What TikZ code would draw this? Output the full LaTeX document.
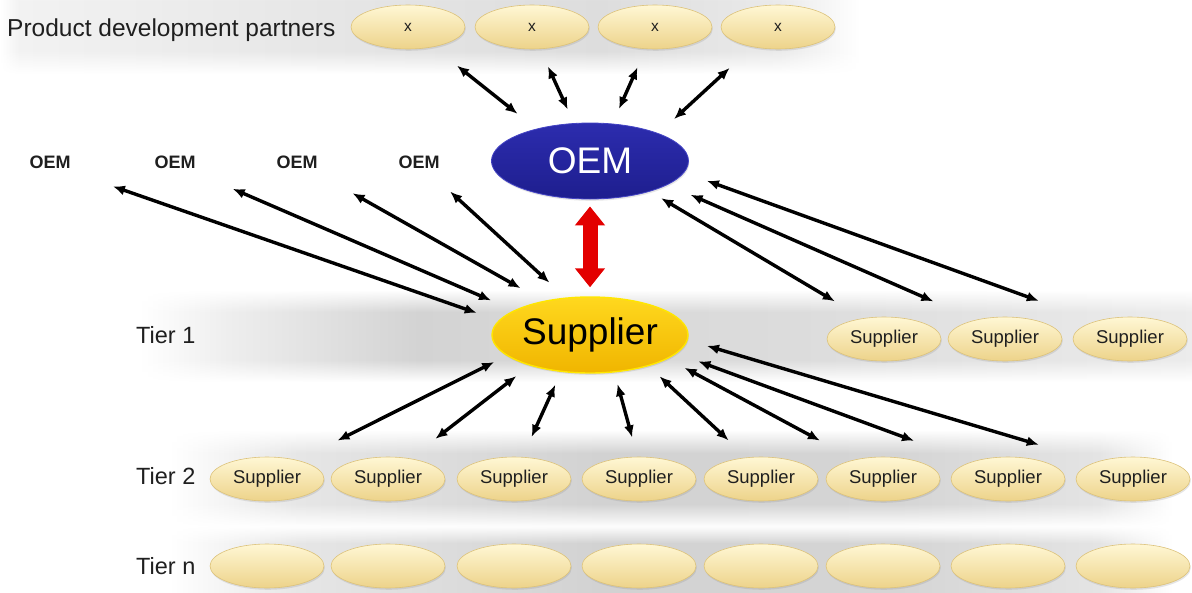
\documentclass[tikz,border=0pt]{standalone}
\usepackage{fontspec}
\setmainfont{Liberation Sans}
\usetikzlibrary{shapes.geometric,arrows.meta,shadows,fadings}

\definecolor{creamTop}{HTML}{FFF7D4}
\definecolor{creamMid}{HTML}{F9E8AE}
\definecolor{creamBot}{HTML}{EDD38A}
\definecolor{creamEdge}{HTML}{DCC27A}
\definecolor{oemTop}{HTML}{2C2CAE}
\definecolor{oemMid}{HTML}{1A1A82}
\definecolor{oemBot}{HTML}{1E1E8E}
\definecolor{oemEdge}{HTML}{4444C4}
\definecolor{supTop}{HTML}{FFD81E}
\definecolor{supMid}{HTML}{F8C500}
\definecolor{supBot}{HTML}{F0B500}
\definecolor{supEdge}{HTML}{FFE600}
\definecolor{arrowRed}{HTML}{E30000}
\definecolor{gA}{HTML}{F2F2F2}
\definecolor{gB}{HTML}{E6E6E6}
\definecolor{gC}{HTML}{DDDDDD}
\definecolor{gD}{HTML}{EAEAEA}
\definecolor{gE}{HTML}{EEEEEE}
\definecolor{gF}{HTML}{D3D3D3}
\definecolor{gG}{HTML}{D8D8D8}
\definecolor{gH}{HTML}{DCDCDC}
\definecolor{gI}{HTML}{ECECEC}
\definecolor{gJ}{HTML}{D2D2D2}
\definecolor{gK}{HTML}{D5D5D5}
\definecolor{gL}{HTML}{E4E4E4}

\pgfdeclareverticalshading{vplatsh}{100bp}{color(0bp)=(black); color(25bp)=(black); color(37bp)=(white); color(63bp)=(white); color(75bp)=(black); color(100bp)=(black)}
\pgfdeclarefading{vplat}{\pgfuseshading{vplatsh}}
\pgfdeclareverticalshading{vtopsh}{100bp}{color(0bp)=(white); color(70bp)=(white); color(75bp)=(black); color(100bp)=(black)}
\pgfdeclarefading{vtop}{\pgfuseshading{vtopsh}}

\pgfdeclarehorizontalshading{bandtop}{100bp}{color(0bp)=(white); color(25bp)=(white); color(26.1bp)=(gA); color(43.7bp)=(gB); color(59.1bp)=(gC); color(69.3bp)=(gD); color(73.9bp)=(white); color(100bp)=(white)}
\pgfdeclarehorizontalshading{bandone}{100bp}{color(0bp)=(white); color(25bp)=(white); color(29.2bp)=(gE); color(38.2bp)=(gF); color(44.8bp)=(gG); color(56.1bp)=(gH); color(65.6bp)=(gL); color(75bp)=(gI); color(100bp)=(gI)}
\pgfdeclarehorizontalshading{bandtwo}{100bp}{color(0bp)=(white); color(25bp)=(white); color(31.3bp)=(gB); color(46bp)=(gJ); color(60.6bp)=(gK); color(70.4bp)=(gL); color(74bp)=(white); color(100bp)=(white)}

\begin{document}
\begin{tikzpicture}[x=1pt,y=-1pt,
  lab/.style={font=\fontsize{23.5}{27}\selectfont, inner sep=0pt, anchor=west, text=black!88},
  oemlab/.style={font=\bfseries\fontsize{18}{20}\selectfont, inner sep=2pt, text=black!88},
  pill/.style={ellipse, minimum width=114pt, minimum height=44pt, inner sep=0pt,
    top color=creamTop, middle color=creamMid, bottom color=creamBot,
    draw=creamEdge, line width=0.6pt,
    drop shadow={shadow xshift=0.8pt, shadow yshift=-1.8pt, opacity=0.2},
    font=\fontsize{18.5}{22}\selectfont, text=black!88},
  xpill/.style={pill, font=\fontsize{15.5}{17}\selectfont},
  oemnode/.style={ellipse, minimum width=197pt, minimum height=76pt, inner sep=0pt,
    top color=oemTop, middle color=oemMid, bottom color=oemBot,
    draw=oemEdge, line width=0.8pt,
    drop shadow={shadow xshift=0.8pt, shadow yshift=-1.8pt, opacity=0.2},
    text=white, font=\fontsize{37}{40}\selectfont},
  supnode/.style={ellipse, minimum width=196pt, minimum height=76pt, inner sep=0pt,
    top color=supTop, middle color=supMid, bottom color=supBot,
    draw=supEdge, line width=1.4pt,
    drop shadow={shadow xshift=0.8pt, shadow yshift=-1.8pt, opacity=0.2},
    text=black, font=\fontsize{37}{40}\selectfont},
  conn/.style={draw=black, line width=3.4pt,
    {Latex[length=12pt,width=10pt]}-{Latex[length=12pt,width=10pt]}},
  redarr/.style={draw=arrowRed, line width=15pt,
    {Triangle[length=19pt,width=29pt]}-{Triangle[length=19pt,width=29pt]}}
]
\useasboundingbox (0,0) rectangle (1192,592);
\clip (0,0) rectangle (1192,592);

% background bands
\shade[shading=bandtop, path fading=vplat] (0,-22) rectangle (880,74);
\shade[shading=bandone, path fading=vplat] (140,290) rectangle (1200,382);
\shade[shading=bandtwo, path fading=vplat] (170,430) rectangle (1195,527);
\shade[shading=bandtwo, path fading=vtop] (170,526) rectangle (1195,700);

% labels
\node[lab, font=\fontsize{24.5}{28}\selectfont] (pdp) at (7,30) {Product development partners};
\node[lab] (tier1) at (136,335) {Tier 1};
\node[lab] (tier2) at (136,476) {Tier 2};
\node[lab] (tiern) at (136,566) {Tier n};

% partners
\node[xpill] (x1) at (408,27) {x};
\node[xpill] (x2) at (532,27) {x};
\node[xpill] (x3) at (655,27) {x};
\node[xpill] (x4) at (778,27) {x};

% OEMs
\node[oemnode] (oem) at (590,161) {OEM};
\node[oemlab] (l1) at (50,162) {OEM};
\node[oemlab] (l2) at (175,162) {OEM};
\node[oemlab] (l3) at (297,162) {OEM};
\node[oemlab] (l4) at (419,162) {OEM};

% Tier 1
\node[supnode] (sup) at (590,335) {Supplier};
\node[pill] (t1a) at (884,339) {Supplier};
\node[pill] (t1b) at (1005,339) {Supplier};
\node[pill] (t1c) at (1130,339) {Supplier};

% Tier 2 and Tier n
\foreach \n/\x in {a/267,b/388,c/514,d/639,e/761,f/883,g/1008,h/1133}{
  \node[pill] (t2\n) at (\x,479) {Supplier};
  \node[pill] (tn\n) at (\x,566) {};
}

% red double arrow
\draw[redarr, shorten <=7pt, shorten >=9pt] (oem.south) -- (sup.north);

% partners <-> OEM
\draw[conn, shorten <=30pt, shorten >=24pt] (x1.-38.5) -- (oem.149.6);
\draw[conn, shorten <=19pt, shorten >=15pt] (x2.-70.7) -- (oem.113.3);
\draw[conn, shorten <=20pt, shorten >=16pt] (x3.-113) -- (oem.59.5);
\draw[conn, shorten <=31pt, shorten >=21pt] (x4.-142.6) -- (oem.22.9);

% other OEMs <-> Supplier
\draw[conn, shorten <=48pt, shorten >=23pt] (l1.-26.6) -- (sup.171.6);
\draw[conn, shorten <=46pt, shorten >=25pt] (l2.-29.4) -- (sup.162.3);
\draw[conn, shorten <=46pt, shorten >=26pt] (l3.-29.4) -- (sup.144.8);
\draw[conn, shorten <=31pt, shorten >=22pt] (l4.-46.9) -- (sup.123.9);

% OEM <-> other Tier 1 suppliers
\draw[conn, shorten <=13pt, shorten >=33pt] (oem.-27.9) -- (t1a.135.7);
\draw[conn, shorten <=25pt, shorten >=46pt] (oem.-17.7) -- (t1b.147.7);
\draw[conn, shorten <=24pt, shorten >=60pt] (oem.-7.8) -- (t1c.153.9);

% Supplier <-> Tier 2
\draw[conn, shorten <=14pt, shorten >=44pt] (sup.-166.8) -- (t2a.31.7);
\draw[conn, shorten <=17pt, shorten >=32pt] (sup.-153.1) -- (t2b.43.0);
\draw[conn, shorten <=14pt, shorten >=22pt] (sup.-128.2) -- (t2c.69.1);
\draw[conn, shorten <=12pt, shorten >=20pt] (sup.-57.4) -- (t2d.94.1);
\draw[conn, shorten <=15pt, shorten >=25pt] (sup.-28.5) -- (t2e.123.7);
\draw[conn, shorten <=19pt, shorten >=40pt] (sup.-17.9) -- (t2f.145.0);
\draw[conn, shorten <=23pt, shorten >=61pt] (sup.-12.0) -- (t2g.155.7);
\draw[conn, shorten <=20pt, shorten >=60pt] (sup.-3.9) -- (t2h.155.2);
\end{tikzpicture}
\end{document}
